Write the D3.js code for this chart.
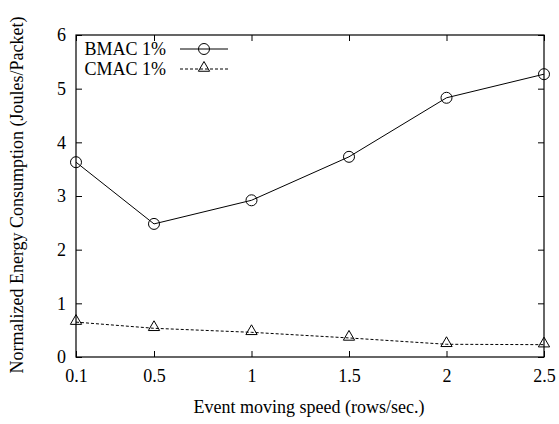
<!DOCTYPE html>
<html>
<head>
<meta charset="utf-8">
<script src="https://cdn.jsdelivr.net/npm/d3@7"></script>
<style>
  body { margin: 0; background: #fff; }
  text { font-family: "Liberation Serif", "Times New Roman", serif; fill: #000; }
</style>
</head>
<body>
<div class="chart"></div>
<script>
// data
const speeds = [0.1, 0.5, 1, 1.5, 2, 2.5];
const bmac = [3.63, 2.48, 2.92, 3.73, 4.83, 5.27];
const cmac = [0.65, 0.535, 0.46, 0.355, 0.237, 0.23];
const xTicks = [0.1, 0.5, 1, 1.5, 2, 2.5];
const yTicks = [0, 1, 2, 3, 4, 5, 6];
const seriesNames = ["BMAC 1%", "CMAC 1%"];

const width = 559, height = 424;
const margin = {top: 35, right: 15, bottom: 67, left: 76};
const insideWidth = width - margin.left - margin.right;
const insideHeight = height - margin.top - margin.bottom;
const fontSize = "18px";

const svg = d3.select(".chart").append("svg")
  .attr("width", width)
  .attr("height", height);

const g = svg.append("g").attr("transform", "translate(" + margin.left + "," + margin.top + ")");

const xScale = d3.scaleLinear().domain([0.1, 2.5]).range([0, insideWidth]);
const yScale = d3.scaleLinear().domain([0, 6]).range([insideHeight, 0]);

const tickLen = 6;
const fmt = d => String(d);

// axes: bottom/left with labels, top/right mirrored ticks only
g.append("g")
  .attr("transform", "translate(0," + insideHeight + ")")
  .call(d3.axisBottom(xScale).tickValues(xTicks).tickSize(-tickLen).tickPadding(12).tickFormat(fmt));
g.append("g")
  .call(d3.axisTop(xScale).tickValues(xTicks).tickSize(-tickLen).tickFormat(""));
g.append("g")
  .call(d3.axisLeft(yScale).tickValues(yTicks).tickSize(-tickLen).tickPadding(10).tickFormat(fmt));
g.append("g")
  .attr("transform", "translate(" + insideWidth + ",0)")
  .call(d3.axisRight(yScale).tickValues(yTicks).tickSize(-tickLen).tickFormat(""));

g.selectAll(".domain").remove();
g.selectAll(".tick line").attr("stroke", "#000").attr("stroke-width", 1);
g.selectAll(".tick text").style("font-size", fontSize).style("font-family", "Liberation Serif, serif").attr("fill", "#000");

g.append("rect")
  .attr("width", insideWidth)
  .attr("height", insideHeight)
  .attr("fill", "none")
  .attr("stroke", "#000")
  .attr("stroke-width", 1.2);

// series
const line = d3.line()
  .x(d => xScale(d[0]))
  .y(d => yScale(d[1]));

const bPts = speeds.map((s, i) => [s, bmac[i]]);
const cPts = speeds.map((s, i) => [s, cmac[i]]);

g.append("path").datum(bPts)
  .attr("d", line).attr("fill", "none").attr("stroke", "#000").attr("stroke-width", 1);
g.append("path").datum(cPts)
  .attr("d", line).attr("fill", "none").attr("stroke", "#000").attr("stroke-width", 1)
  .attr("stroke-dasharray", "3,2");

const circleSym = d3.symbol().type(d3.symbolCircle).size(95);
const triSym = d3.symbol().type(d3.symbolTriangle).size(55);

g.selectAll(".bpt").data(bPts).enter().append("path")
  .attr("transform", d => "translate(" + xScale(d[0]) + "," + yScale(d[1]) + ")")
  .attr("d", circleSym).attr("fill", "none").attr("stroke", "#000").attr("stroke-width", 1);
g.selectAll(".cpt").data(cPts).enter().append("path")
  .attr("transform", d => "translate(" + xScale(d[0]) + "," + (yScale(d[1]) - 1) + ")")
  .attr("d", triSym).attr("fill", "none").attr("stroke", "#000").attr("stroke-width", 1);

// legend
const legend = svg.append("g");
const legY = [49, 69];
legend.selectAll("text").data(seriesNames).enter().append("text")
  .attr("x", 166).attr("y", (d, i) => legY[i]).attr("dy", "0.35em")
  .attr("text-anchor", "end").style("font-size", fontSize).text(d => d);
legend.append("line").attr("x1", 180).attr("x2", 228).attr("y1", legY[0]).attr("y2", legY[0])
  .attr("stroke", "#000");
legend.append("line").attr("x1", 180).attr("x2", 228).attr("y1", legY[1]).attr("y2", legY[1])
  .attr("stroke", "#000").attr("stroke-dasharray", "3,2");
legend.append("path").attr("transform", "translate(204," + legY[0] + ")")
  .attr("d", circleSym).attr("fill", "none").attr("stroke", "#000");
legend.append("path").attr("transform", "translate(204," + (legY[1] - 1) + ")")
  .attr("d", triSym).attr("fill", "none").attr("stroke", "#000");

// axis labels
svg.append("text")
  .attr("x", 309).attr("y", 413)
  .attr("text-anchor", "middle").style("font-size", fontSize)
  .text("Event moving speed (rows/sec.)");
svg.append("text")
  .attr("transform", "translate(23,195) rotate(-90)")
  .attr("text-anchor", "middle").style("font-size", fontSize)
  .text("Normalized Energy Consumption (Joules/Packet)");
</script>
</body>
</html>
